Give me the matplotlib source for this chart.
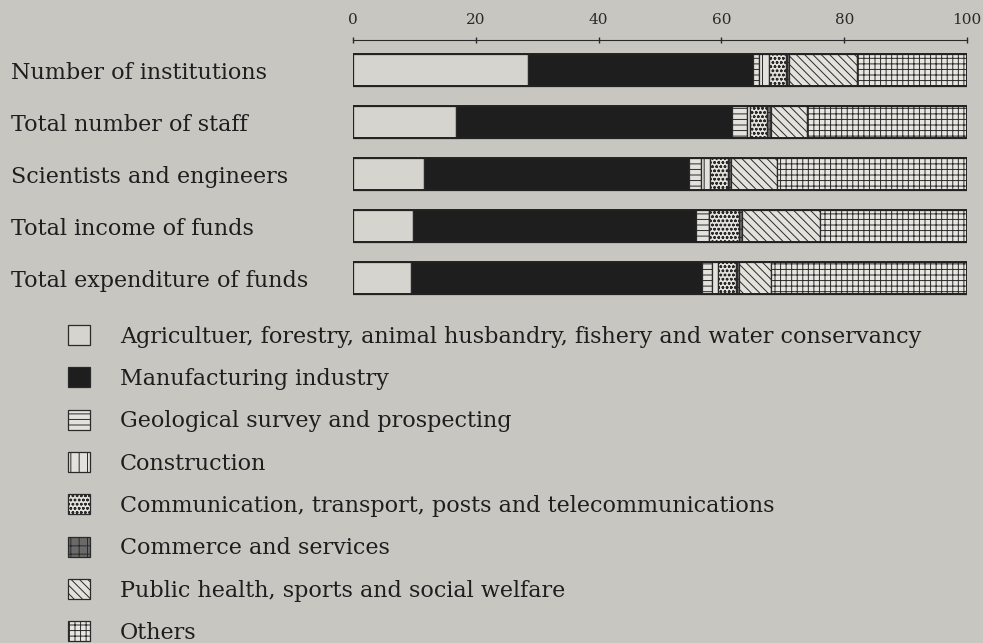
import matplotlib
matplotlib.use('Agg')
import matplotlib.pyplot as plt
from matplotlib.patches import Patch

# rows of the chart (top to bottom)
rows = ['Number of institutions', 'Total number of staff', 'Scientists and engineers',
        'Total income of funds', 'Total expenditure of funds']

# share (%) of each sector
agriculture   = [28.5, 16.7, 11.6, 9.8, 9.5]
manufacturing = [36.6, 45.1, 43.2, 46.0, 47.4]
geological    = [1.0, 2.4, 1.8, 2.1, 1.6]
construction  = [1.6, 0.5, 1.6, 0.0, 1.0]
communication = [2.8, 2.8, 2.8, 5.0, 2.8]
commerce      = [0.5, 0.5, 0.5, 0.5, 0.5]
public_health = [11.1, 6.0, 7.6, 12.7, 5.2]
others        = [17.9, 26.0, 30.9, 23.9, 32.0]

sectors = ['Agricultuer, forestry, animal husbandry, fishery and water conservancy',
           'Manufacturing industry',
           'Geological survey and prospecting',
           'Construction',
           'Communication, transport, posts and telecommunications',
           'Commerce and services',
           'Public health, sports and social welfare',
           'Others']
values = [agriculture, manufacturing, geological, construction,
          communication, commerce, public_health, others]

bg = '#c8c6c0'
styles = [
    dict(facecolor='#d6d4ce', hatch=None),
    dict(facecolor='#1e1e1e', hatch=None),
    dict(facecolor='#e4e2dc', hatch='---'),
    dict(facecolor='#e4e2dc', hatch='||'),
    dict(facecolor='#e4e2dc', hatch='oooo'),
    dict(facecolor='#6a6a6a', hatch='++'),
    dict(facecolor='#e4e2dc', hatch='\\\\\\\\'),
    dict(facecolor='#e8e6e0', hatch='+++'),
]

plt.rcParams['font.family'] = ['DejaVu Serif']
plt.rcParams['hatch.linewidth'] = 0.7

fig = plt.figure(figsize=(9.83, 6.43), dpi=100, facecolor=bg)
ax = fig.add_axes([353 / 983, 1 - 300 / 643, 614 / 983, 260 / 643], facecolor=bg)

ypos = list(range(len(rows)))
left = [0.0] * len(rows)
for vals, st in zip(values, styles):
    ax.barh(ypos, vals, left=left, height=0.62, facecolor=st['facecolor'],
            hatch=st['hatch'], edgecolor='#2a2a2a', linewidth=0.9)
    left = [l + v for l, v in zip(left, vals)]

# outline of each full bar
ax.barh(ypos, [100] * len(rows), height=0.62, fill=False, edgecolor='#222222', linewidth=1.4)

ax.set_xlim(0, 100)
ax.set_ylim(4.42, -0.58)
ax.xaxis.tick_top()
ax.set_xticks([0, 20, 40, 60, 80, 100])
ax.tick_params(axis='x', direction='inout', length=5, width=1, colors='#2a2a2a',
               labelsize=11, pad=7)
for s in ['bottom', 'left', 'right']:
    ax.spines[s].set_visible(False)
ax.spines['top'].set_color('#2a2a2a')

ax.set_yticks(ypos)
ax.set_yticklabels(rows, fontsize=16, color='#1e1e1e')
ax.tick_params(axis='y', length=0, pad=246)
for lab in ax.get_yticklabels():
    lab.set_horizontalalignment('left')

handles = [Patch(facecolor=st['facecolor'], hatch=st['hatch'], edgecolor='#2a2a2a', linewidth=0.9)
           for st in styles]
fig.legend(handles, sectors, loc='upper left', bbox_to_anchor=(68 / 983, 1 - 325 / 643),
           frameon=False, borderpad=0, borderaxespad=0, fontsize=16, labelspacing=0.89,
           handlelength=1.0, handleheight=1.0, handletextpad=1.35, labelcolor='#1e1e1e')

fig.savefig('out.png', dpi=100, facecolor=bg)
